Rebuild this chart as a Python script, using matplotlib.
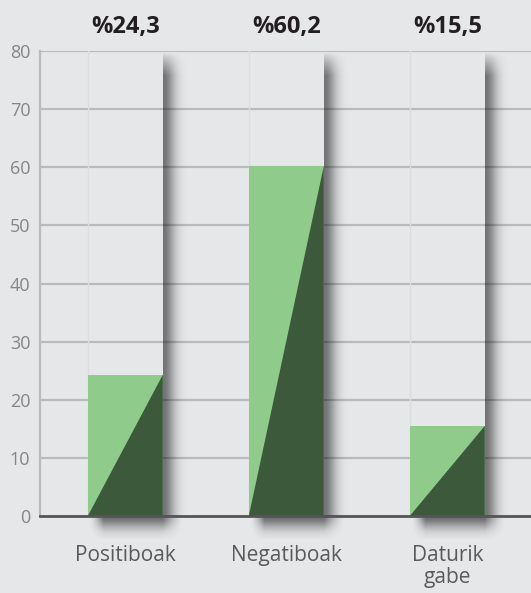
import matplotlib
matplotlib.use("Agg")
import matplotlib.pyplot as plt
import numpy as np
from matplotlib.patches import Polygon

categories = ["Positiboak", "Negatiboak", "Daturik\ngabe"]
values = [24.3, 60.2, 15.5]
top_labels = ["%24,3", "%60,2", "%15,5"]
yticks = [0, 10, 20, 30, 40, 50, 60, 70, 80]

bg = "#e6e7e9"
light_green = "#8fcb8a"
dark_green = "#3c593c"

plt.rcParams['font.family'] = ['Open Sans', 'DejaVu Sans']

fig = plt.figure(figsize=(5.31, 5.93), dpi=100, facecolor=bg)
ax = fig.add_axes([0.0753, 0.1298, 0.9247, 0.7842])
ax.set_facecolor(bg)

width = 0.466
ymax = 80
ax.set_xlim(-0.53, 2.52)
ax.set_ylim(0, ymax)

# grid
for t in yticks[1:]:
    ax.axhline(t, color="#b9babc", lw=1.6, zorder=1)

# side shadow gradient (horizontal fade, soft top)
sw = 0.16
shadow_top = 79.8
nx, ny = 80, 400
gx = np.linspace(0, 1, nx)
gy = np.linspace(0, 1, ny)
prof_x = 0.5 * np.exp(-(gx / 0.45) ** 2)
yv = shadow_top * (1 - gy)  # row 0 = top
top_fade = np.clip((shadow_top - yv) / 4.0, 0, 1) ** 0.8
side = np.zeros((ny, nx, 4))
side[..., 3] = top_fade[:, None] * prof_x[None, :]

# bottom shadow under bars
bx, by = 100, 40
ux = np.linspace(0, 1, bx)
uy = np.linspace(0, 1, by)
hx = np.clip(ux / 0.15, 0, 1) ** 1.5 * np.clip((1 - ux) / 0.22, 0, 1) ** 1.5
vy = np.exp(-(uy / 0.55) ** 2)
bottom = np.zeros((by, bx, 4))
bottom[..., 3] = 0.55 * vy[:, None] * hx[None, :]

for i, (v, lab) in enumerate(zip(values, top_labels)):
    x0 = i - width / 2
    x1 = i + width / 2
    # faint column line
    ax.plot([x0, x0], [0, ymax], color="#dcdddf", lw=1, zorder=1.5)
    ax.imshow(side, extent=(x1, x1 + sw, 0, shadow_top), aspect="auto",
              interpolation="bilinear", zorder=2)
    ax.imshow(bottom, extent=(x0 + 0.01, x1 + 0.13, -4.0, 0), aspect="auto",
              interpolation="bilinear", zorder=2, clip_on=False)
    ax.add_patch(Polygon([(x0, 0), (x0, v), (x1, v), (x1, 0)],
                         closed=True, facecolor=light_green, edgecolor="none", zorder=3))
    ax.add_patch(Polygon([(x0, 0), (x1, v), (x1, 0)],
                         closed=True, facecolor=dark_green, edgecolor="none", zorder=4))
    ax.text(i, 1.052, lab, transform=ax.get_xaxis_transform(), ha="center", va="center",
            fontsize=17, fontweight="bold", color="#231f20")

ax.set_xlim(-0.53, 2.52)
ax.set_ylim(0, ymax)

ax.set_xticks(range(len(categories)))
ax.set_xticklabels(categories, fontsize=15, color="#5a5a5c", linespacing=1.05, va="top")
ax.set_yticks(yticks)
ax.set_yticklabels([str(t) for t in yticks], fontsize=13, color="#858587")
ax.tick_params(axis="x", length=0, pad=21)
ax.tick_params(axis="y", length=0, pad=7)

for s in ["top", "right"]:
    ax.spines[s].set_visible(False)
ax.spines["left"].set_color("#b9babc")
ax.spines["left"].set_linewidth(1.6)
ax.spines["bottom"].set_color("#555558")
ax.spines["bottom"].set_linewidth(2)
ax.spines["bottom"].set_zorder(5)

fig.savefig("out.png", dpi=100, facecolor=bg)
